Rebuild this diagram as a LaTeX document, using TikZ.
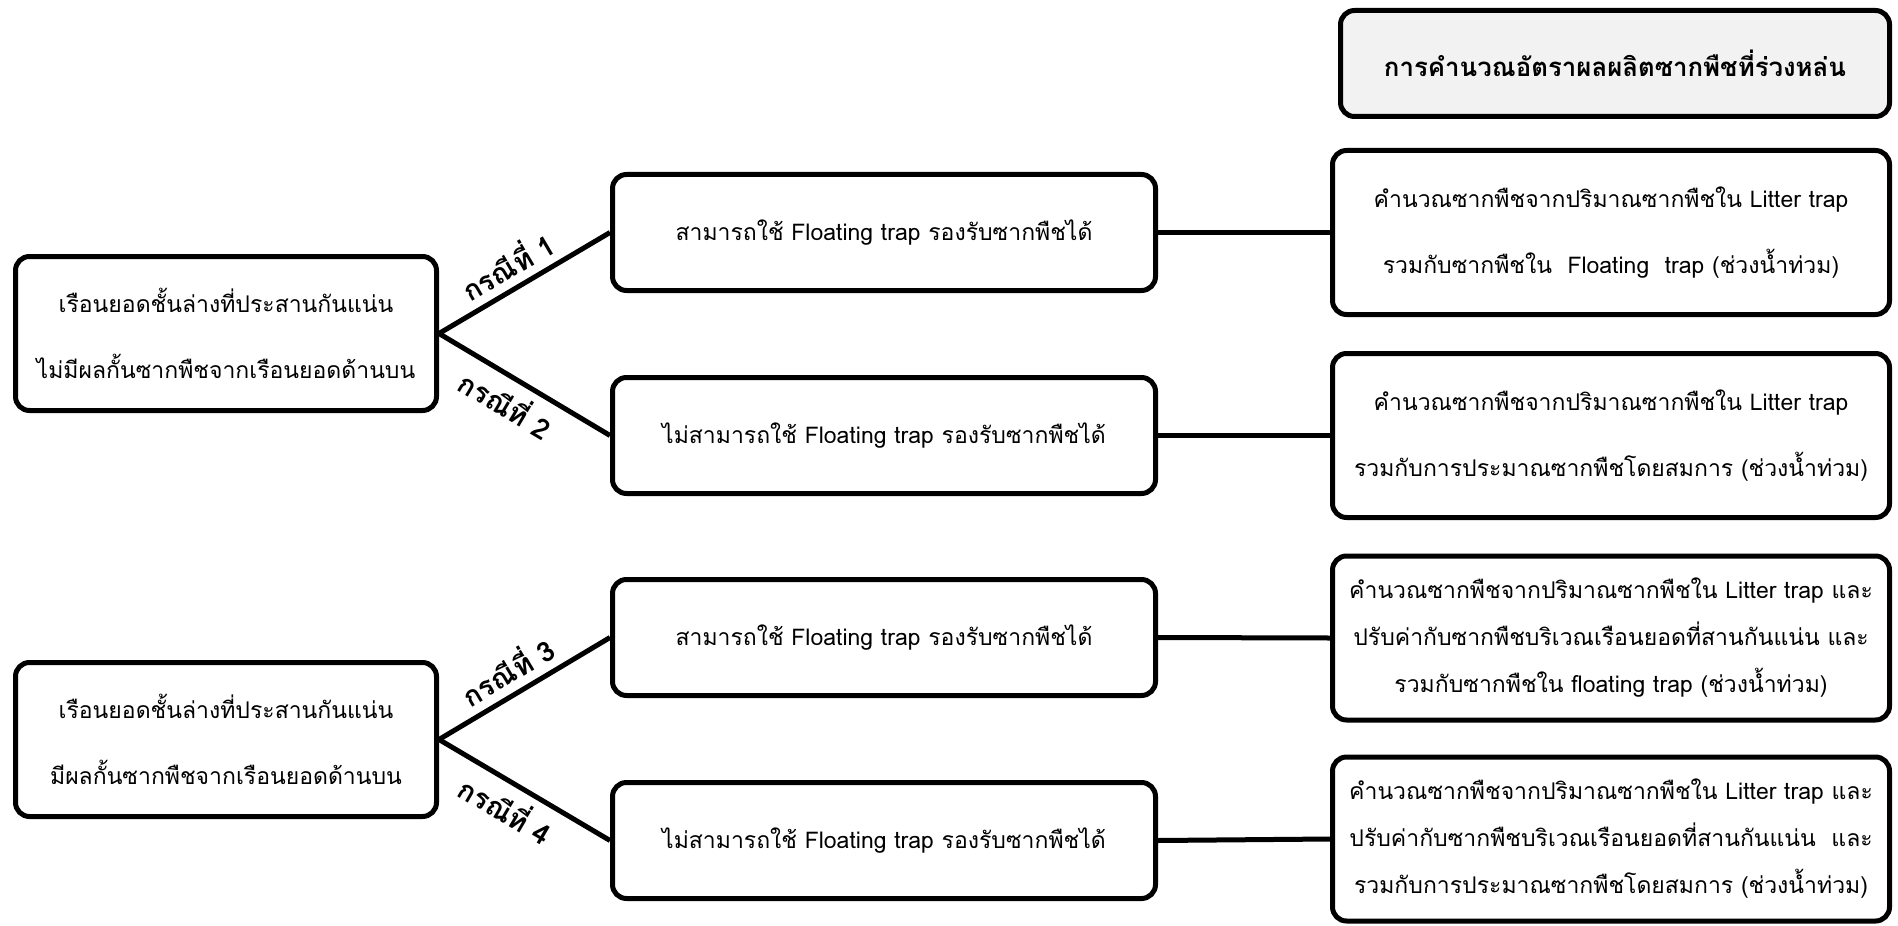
\documentclass[tikz,border=0pt]{standalone}
\usepackage{fontspec}
\newfontfamily\thaifont[Script=Thai]{Loma}
\tikzset{
  flow box/.style={
    rounded corners=7pt,
    draw,
    line width=2.5pt,
    align=center,
    inner sep=0pt,
    font=\thaifont\fontsize{11.5}{33}\selectfont,
  },
  case label/.style={
    font=\thaifont\bfseries\fontsize{14}{16}\selectfont,
    sloped,
    inner sep=4pt,
    pos=0.47,
  },
}

\begin{document}
\begin{tikzpicture}[x=0.5pt, y=-0.5pt]
      \useasboundingbox (0,0) rectangle (1898,925);
      \node[flow box, fill=black!5, minimum width=274.5pt, minimum height=53pt,
            font=\thaifont\bfseries\fontsize{12.9}{15}\selectfont] (title) at (1615,63.5)
            {การคำนวณอัตราผลผลิตซากพืชที่ร่วงหล่น};

      \node[flow box, minimum width=210.5pt, minimum height=77pt] (left1) at (226,333.5)
            {เรือนยอดชั้นล่างที่ประสานกันแน่น\\ไม่มีผลกั้นซากพืชจากเรือนยอดด้านบน};
      \node[flow box, minimum width=210.5pt, minimum height=77pt] (left2) at (226,739.5)
            {เรือนยอดชั้นล่างที่ประสานกันแน่น\\มีผลกั้นซากพืชจากเรือนยอดด้านบน};

      \node[flow box, minimum width=271.5pt, minimum height=58pt] (mid1) at (884,232.5)
            {สามารถใช้ Floating trap รองรับซากพืชได้};
      \node[flow box, minimum width=271.5pt, minimum height=58pt] (mid2) at (884,435.5)
            {ไม่สามารถใช้ Floating trap รองรับซากพืชได้};
      \node[flow box, minimum width=271.5pt, minimum height=58pt] (mid3) at (884,637.5)
            {สามารถใช้ Floating trap รองรับซากพืชได้};
      \node[flow box, minimum width=271.5pt, minimum height=58pt] (mid4) at (884,840.5)
            {ไม่สามารถใช้ Floating trap รองรับซากพืชได้};

      \node[flow box, minimum width=278.5pt, minimum height=82pt] (right1) at (1611,232.5)
            {คำนวณซากพืชจากปริมาณซากพืชใน Litter trap\\รวมกับซากพืชใน\ \ Floating\ \ trap (ช่วงน้ำท่วม)};
      \node[flow box, minimum width=278.5pt, minimum height=82pt] (right2) at (1611,435.5)
            {คำนวณซากพืชจากปริมาณซากพืชใน Litter trap\\รวมกับการประมาณซากพืชโดยสมการ (ช่วงน้ำท่วม)};
      \node[flow box, minimum width=278.5pt, minimum height=82pt,
            font=\thaifont\fontsize{11.5}{23.5}\selectfont] (right3) at (1611,638)
            {คำนวณซากพืชจากปริมาณซากพืชใน Litter trap และ\\ปรับค่ากับซากพืชบริเวณเรือนยอดที่สานกันแน่น และ\\รวมกับซากพืชใน floating trap (ช่วงน้ำท่วม)};
      \node[flow box, minimum width=278.5pt, minimum height=82pt,
            font=\thaifont\fontsize{11.5}{23.5}\selectfont] (right4) at (1611,839)
            {คำนวณซากพืชจากปริมาณซากพืชใน Litter trap และ\\ปรับค่ากับซากพืชบริเวณเรือนยอดที่สานกันแน่น\ \ และ\\รวมกับการประมาณซากพืชโดยสมการ (ช่วงน้ำท่วม)};

      \draw[line width=2.5pt] (left1.east) -- node[case label, above] {กรณีที่ 1} (mid1.west);
      \draw[line width=2.5pt] (left1.east) -- node[case label, below] {กรณีที่ 2} (mid2.west);
      \draw[line width=2.5pt] (left2.east) -- node[case label, above] {กรณีที่ 3} (mid3.west);
      \draw[line width=2.5pt] (left2.east) -- node[case label, below] {กรณีที่ 4} (mid4.west);
      \foreach \i in {1,...,4}
        \draw[line width=2.5pt] (mid\i.east) -- (right\i.west);
    \end{tikzpicture}
\end{document}
